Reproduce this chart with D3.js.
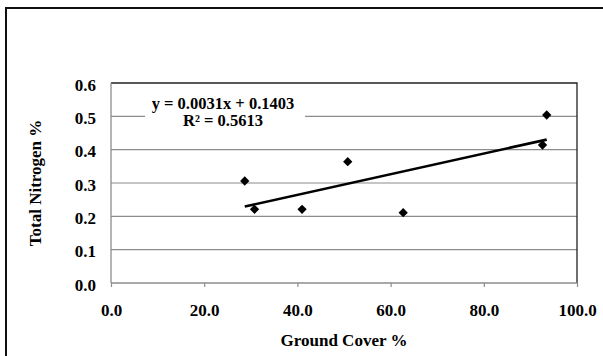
<!DOCTYPE html>
<html>
<head>
<meta charset="utf-8">
<script src="https://cdn.jsdelivr.net/npm/d3@7"></script>
<style>
  body { margin: 0; background: #fff; }
  text { font-family: "Liberation Serif", "Times New Roman", serif; font-weight: bold; fill: #000; }
</style>
</head>
<body>
<svg id="chart"></svg>
<script>
'use strict';

// data
var groundCover = [28.7, 30.8, 41.0, 50.8, 62.7, 92.6, 93.5];
var nitrogen = [0.306, 0.221, 0.221, 0.364, 0.211, 0.414, 0.504];
var xTicks = [0, 20, 40, 60, 80, 100];
var yTicks = [0, 0.1, 0.2, 0.3, 0.4, 0.5, 0.6];
var slope = 0.0031;
var intercept = 0.1403;
var eqLines = ['y = 0.0031x + 0.1403', 'R\u00b2 = 0.5613'];

function render() {
    var w = 603;
    var h = 356;
    var d3 = window.d3;

    var svg = d3.select('#chart').attr('width', w).attr('height', h);

    // chart area border, right and bottom edges run off the picture
    svg.append('rect')
        .attr('x', 6).attr('y', 8)
        .attr('width', w + 20).attr('height', h + 20)
        .attr('fill', 'none').attr('stroke', '#111').attr('stroke-width', 2);

    var pLeft = 111, pRight = 577, pTop = 83, pBottom = 283;

    var x = d3.scaleLinear().domain([0, 100]).range([pLeft, pRight]);
    var y = d3.scaleLinear().domain([0, 0.6]).range([pBottom, pTop]);
    var f = d3.format('.1f');

    // gridlines
    svg.append('g').selectAll('line').data(yTicks.slice(1, -1)).enter().append('line')
        .attr('x1', pLeft).attr('x2', pRight)
        .attr('y1', function (d) { return y(d); }).attr('y2', function (d) { return y(d); })
        .attr('stroke', '#8c8c8c').attr('stroke-width', 1.2);

    // plot area top/right border
    svg.append('path')
        .attr('d', 'M' + pLeft + ',' + y(0.6) + 'H' + pRight + 'V' + pBottom)
        .attr('fill', 'none').attr('stroke', '#222').attr('stroke-width', 1.3);

    // axes
    var xAxis = d3.axisBottom(x).tickValues(xTicks).tickSize(4).tickFormat(f);
    var gx = svg.append('g').attr('transform', 'translate(0,' + pBottom + ')').call(xAxis);
    gx.attr('font-family', null).attr('font-size', null);
    gx.select('.domain').attr('stroke', '#8c8c8c').attr('stroke-width', 1.3).attr('d', 'M' + pLeft + ',0H' + pRight);
    gx.selectAll('.tick line').attr('stroke', '#8c8c8c').attr('stroke-width', 1.2);
    gx.selectAll('.tick text').attr('dy', 0).attr('y', 33).style('font-size', '17px').attr('fill', '#000');

    var yAxis = d3.axisLeft(y).tickValues(yTicks).tickSize(0).tickFormat(f);
    var gy = svg.append('g').attr('transform', 'translate(' + pLeft + ',0)').call(yAxis);
    gy.attr('font-family', null).attr('font-size', null);
    gy.select('.domain').attr('stroke', '#8c8c8c').attr('stroke-width', 1.3).attr('d', 'M0,' + pTop + 'V' + pBottom);
    gy.selectAll('.tick text').attr('x', -15).attr('dy', '0.42em').style('font-size', '17px').attr('fill', '#000');

    // trendline
    var xMin = d3.min(groundCover), xMax = d3.max(groundCover);
    svg.append('line')
        .attr('x1', x(xMin)).attr('y1', y(slope * xMin + intercept))
        .attr('x2', x(xMax)).attr('y2', y(slope * xMax + intercept))
        .attr('stroke', '#000').attr('stroke-width', 2.6);

    // points
    var diamond = d3.symbol().type(d3.symbolDiamond2).size(55);
    svg.append('g').selectAll('path').data(groundCover).enter().append('path')
        .attr('d', diamond)
        .attr('transform', function (d, i) { return 'translate(' + x(d) + ',' + y(nitrogen[i]) + ')'; })
        .attr('fill', '#000');

    // equation label
    var lab = svg.append('g');
    lab.append('rect').attr('x', 145).attr('y', 94).attr('width', 160).attr('height', 36).attr('fill', '#fff');
    lab.selectAll('text').data(eqLines).enter().append('text')
        .attr('x', 223).attr('y', function (d, i) { return 109 + i * 17; })
        .attr('text-anchor', 'middle').style('font-size', '16.5px')
        .text(function (d) { return d; });

    // axis titles
    svg.append('text').attr('x', (pLeft + pRight) / 2).attr('y', 346)
        .attr('text-anchor', 'middle').style('font-size', '17px').text('Ground Cover %');
    svg.append('text').attr('transform', 'translate(41,' + (pTop + pBottom) / 2 + ') rotate(-90)')
        .attr('text-anchor', 'middle').style('font-size', '17px').text('Total Nitrogen %');
}

render();
</script>
</body>
</html>
